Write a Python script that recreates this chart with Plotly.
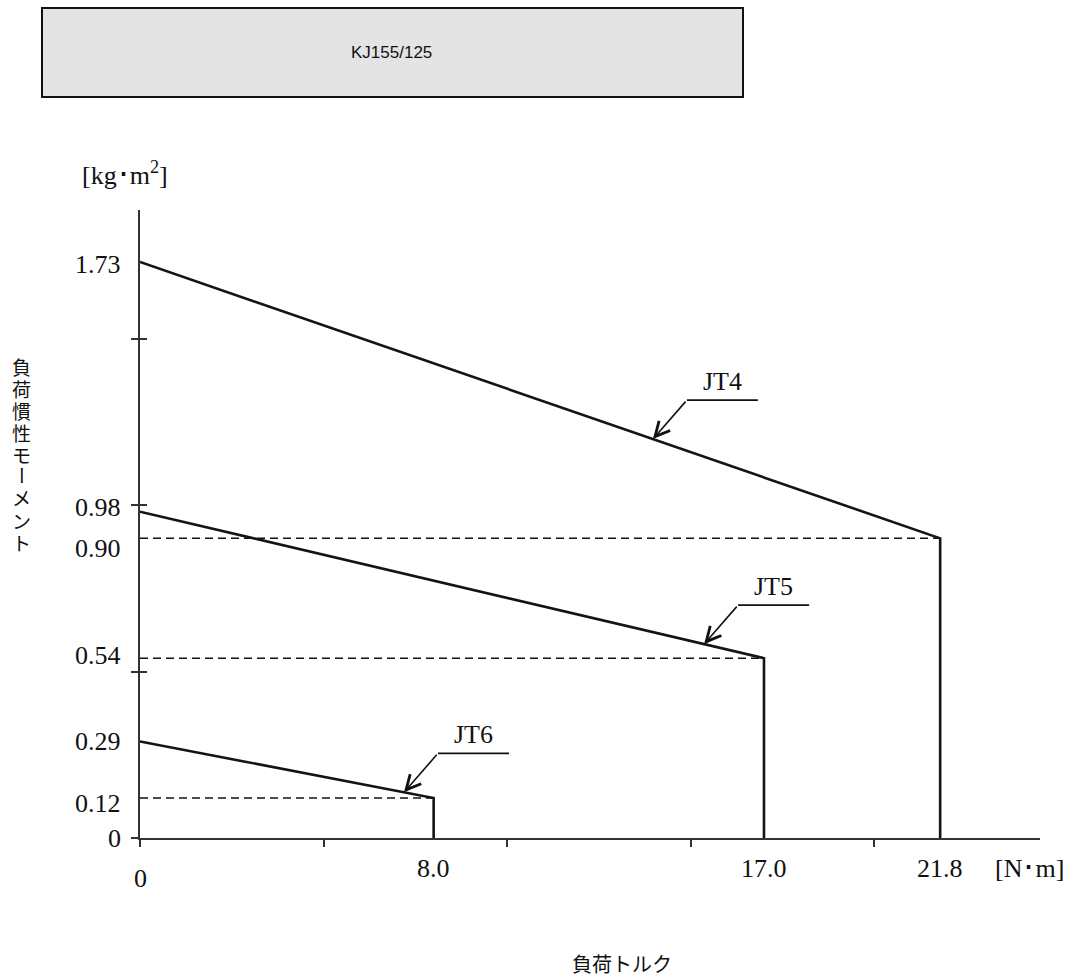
import plotly.graph_objects as go

# ---------------- data ----------------
series_names = ["JT4", "JT5", "JT6"]
torque_max = [21.8, 17.0, 8.0]            # N·m at the vertical limit
inertia_at_zero = [1.73, 0.98, 0.29]      # kg·m² at zero torque
inertia_at_max = [0.90, 0.54, 0.12]       # kg·m² at max torque

y_label_values = [1.73, 0.98, 0.90, 0.54, 0.29, 0.12, 0]
y_label_texts = ["1.73", "0.98", "0.90", "0.54", "0.29", "0.12", "0"]
x_label_values = [0, 8.0, 17.0, 21.8]
x_label_texts = ["0", "8.0", "17.0", "21.8"]

title_text = "KJ155/125"
y_unit = "[kg･m<sup>2</sup>]"
x_unit = "[N･m]"
y_title = "負荷慣性モーメント"
x_title = "負荷トルク"

# ---------------- layout geometry (pixels) ----------------
W, H = 1075, 978
PX_L, PX_R = 140, 1040      # x-axis extent
PY_B, PY_T = 838, 210       # y-axis extent
X_RANGE = [0, 24.52]
Y_RANGE = [0, 1.886]


def pxx(p):
    return p / W


def pxy(p):
    return 1 - p / H


def data_to_px(x, y):
    sx = (PX_R - PX_L) / (X_RANGE[1] - X_RANGE[0])
    sy = (PY_B - PY_T) / (Y_RANGE[1] - Y_RANGE[0])
    return PX_L + (x - X_RANGE[0]) * sx, PY_B - (y - Y_RANGE[0]) * sy


def px_to_data(px, py):
    sx = (PX_R - PX_L) / (X_RANGE[1] - X_RANGE[0])
    sy = (PY_B - PY_T) / (Y_RANGE[1] - Y_RANGE[0])
    return X_RANGE[0] + (px - PX_L) / sx, Y_RANGE[0] + (PY_B - py) / sy


SERIF = "Liberation Serif, Times New Roman, serif"
SANS_JP = "Noto Sans CJK JP, Noto Sans, sans-serif"
LINE_COLOR = "#141414"

fig = go.Figure()

# dashed reference lines
for tm, jm in zip(torque_max, inertia_at_max):
    fig.add_trace(go.Scatter(
        x=[0, tm], y=[jm, jm], mode="lines",
        line=dict(color="#111111", width=1.5, dash="8px,5px"),
        hoverinfo="skip", showlegend=False))

# main curves
for name, tm, j0, jm in zip(series_names, torque_max, inertia_at_zero, inertia_at_max):
    fig.add_trace(go.Scatter(
        x=[0, tm, tm], y=[j0, jm, 0], mode="lines", name=name,
        line=dict(color=LINE_COLOR, width=2.6),
        hoverinfo="skip", showlegend=False))

# invisible trace to carry the overlay axis (for crossing ticks)
fig.add_trace(go.Scatter(x=torque_max, y=inertia_at_max, mode="markers",
                         marker=dict(opacity=0), yaxis="y2",
                         hoverinfo="skip", showlegend=False))

annotations = []
shapes = []

# leader lines and labels (positions are along the curve, as fraction of torque)
leader_frac = [0.641, 0.904, 0.899]
ELBOW_DX, ELBOW_DY, BAR_LEN = 34, -39, 71
for name, tm, j0, jm, f in zip(series_names, torque_max, inertia_at_zero, inertia_at_max, leader_frac):
    tx = tm * f
    ty = j0 + (jm - j0) * f
    tpx, tpy = data_to_px(tx, ty)
    epx, epy = tpx + ELBOW_DX, tpy + ELBOW_DY
    ex, ey = px_to_data(epx, epy)
    ex2, _ = px_to_data(epx + BAR_LEN, epy)
    annotations.append(dict(
        x=tx, y=ty, xref="x", yref="y", ax=ex, ay=ey, axref="x", ayref="y",
        text="", showarrow=True, arrowhead=5, arrowsize=1.8, arrowwidth=1.6,
        arrowcolor="#111111", standoff=0))
    shapes.append(dict(type="line", xref="x", yref="y", x0=ex, y0=ey, x1=ex2, y1=ey,
                       line=dict(color="#111111", width=1.6)))
    annotations.append(dict(
        x=(ex + ex2) / 2, y=ey, xref="x", yref="y", text=name, showarrow=False,
        yanchor="bottom", yshift=2, font=dict(family=SERIF, size=26, color="#111111")))

# y labels
y_shift = {"1.73": -3, "0.98": 4, "0.90": -10, "0.54": 3, "0.29": 0, "0.12": -5, "0": 0}
for v, t in zip(y_label_values, y_label_texts):
    annotations.append(dict(
        x=pxx(123), y=v, xref="paper", yref="y", text=t, showarrow=False,
        xanchor="right", yanchor="middle", yshift=y_shift[t],
        font=dict(family=SERIF, size=26, color="#111111")))

# x labels
for v, t in zip(x_label_values, x_label_texts):
    ypix = 878 if t == "0" else 868
    annotations.append(dict(
        x=v, y=pxy(ypix), xref="x", yref="paper", text=t, showarrow=False,
        xanchor="center", yanchor="middle",
        font=dict(family=SERIF, size=26, color="#111111")))

# units
annotations.append(dict(x=pxx(993), y=pxy(868), xref="paper", yref="paper", text=x_unit,
                        showarrow=False, xanchor="left", yanchor="middle",
                        font=dict(family=SERIF, size=26, color="#111111")))
annotations.append(dict(x=pxx(80), y=pxy(174), xref="paper", yref="paper", text=y_unit,
                        showarrow=False, xanchor="left", yanchor="middle",
                        font=dict(family=SERIF, size=26, color="#111111")))

# axis titles (vertical, stacked upright characters)
for i, ch in enumerate(y_title):
    annotations.append(dict(x=pxx(22), y=pxy(366 + 22 * i), xref="paper", yref="paper",
                            text=ch, showarrow=False, xanchor="center", yanchor="middle",
                            textangle=90 if ch == "ー" else 0,
                            font=dict(family=SANS_JP, size=19, color="#111111")))
annotations.append(dict(x=pxx(622), y=pxy(963), xref="paper", yref="paper", text=x_title,
                        showarrow=False, xanchor="center", yanchor="middle",
                        font=dict(family=SANS_JP, size=20, color="#111111")))

# title box
shapes.append(dict(type="rect", xref="paper", yref="paper",
                   x0=pxx(42), x1=pxx(743), y0=pxy(97), y1=pxy(8),
                   fillcolor="#e4e4e4", line=dict(color="#111111", width=2), layer="below"))
annotations.append(dict(x=pxx(392), y=pxy(53), xref="paper", yref="paper", text=title_text,
                        showarrow=False, xanchor="center", yanchor="middle",
                        font=dict(family="Liberation Sans, Arial, sans-serif",
                                  size=17, color="#111111")))

axis_common = dict(showgrid=False, zeroline=False, showticklabels=False,
                   ticklen=7, tickcolor="#333333", tickwidth=1.5, fixedrange=True)

fig.update_layout(
    width=W, height=H,
    margin=dict(l=0, r=0, t=0, b=0),
    paper_bgcolor="white", plot_bgcolor="rgba(0,0,0,0)",
    xaxis=dict(domain=[PX_L / W, PX_R / W], range=X_RANGE,
               showline=True, linecolor="#333333", linewidth=1.5,
               ticks="outside", tickvals=[0, 5, 10, 15, 20], **axis_common),
    yaxis=dict(domain=[1 - PY_B / H, 1 - PY_T / H], range=Y_RANGE,
               showline=True, linecolor="#333333", linewidth=1.5,
               ticks="outside", tickvals=[0.5, 1.0, 1.5, 0], **axis_common),
    yaxis2=dict(overlaying="y", range=Y_RANGE, showline=False,
                ticks="inside", tickvals=[0.5, 1.0, 1.5], side="left", **axis_common),
    annotations=annotations,
    shapes=shapes,
    showlegend=False,
)

fig.write_html("out.html", config={"displayModeBar": False},
               post_script="document.body.style.margin='0px';")
